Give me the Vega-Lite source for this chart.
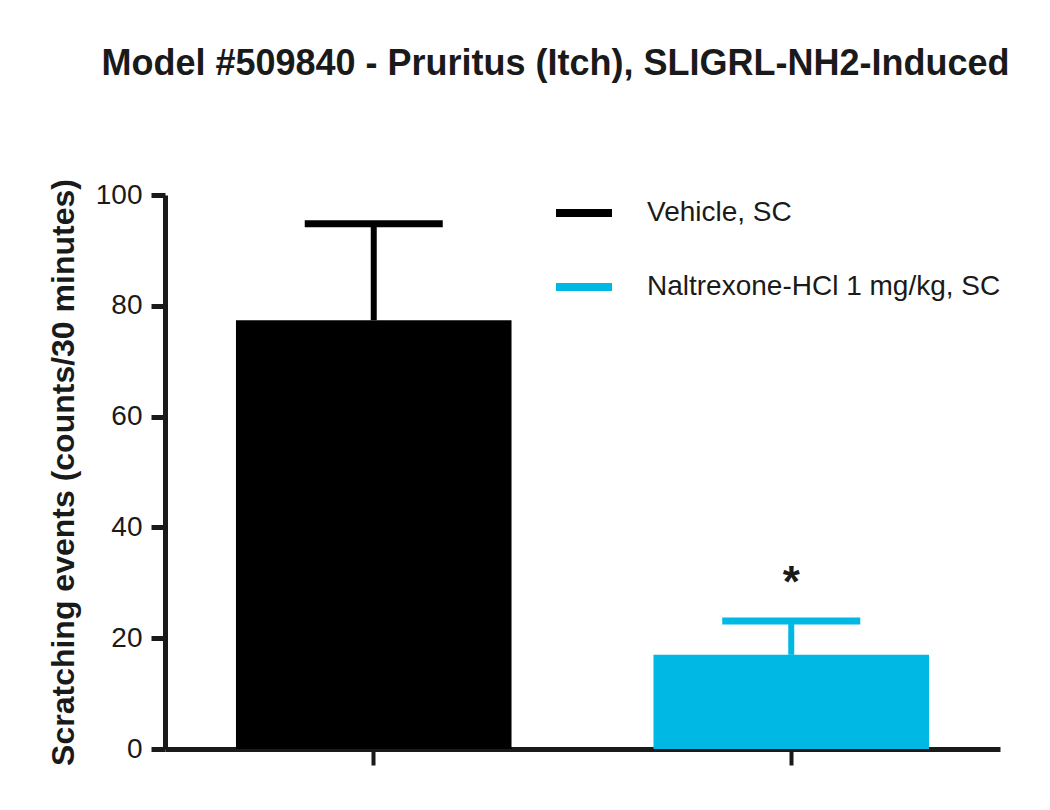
{
  "$schema": "https://vega.github.io/schema/vega-lite/v6.json",
  "description": "Scratching events after SLIGRL-NH2, vehicle vs naltrexone, mean with upper error bar.",
  "autosize": {"type": "none"},
  "padding": {"left": 165, "top": 195, "right": 50, "bottom": 61},
  "width": 835,
  "height": 554,
  "background": "white",
  "title": {
    "text": "Model #509840 - Pruritus (Itch), SLIGRL-NH2-Induced",
    "font": "Liberation Sans",
    "fontSize": 36,
    "fontWeight": "bold",
    "color": "#1a1a1a",
    "anchor": "middle",
    "dx": -27,
    "offset": 82
  },
  "data": {
    "values": [
      {"Group": "Vehicle, SC", "Mean": 77.4, "Upper": 94.8, "Sig": ""},
      {"Group": "Naltrexone-HCl 1 mg/kg, SC", "Mean": 17.0, "Upper": 23.1, "Sig": "*"}
    ]
  },
  "encoding": {
    "x": {
      "field": "Group",
      "type": "nominal",
      "sort": ["Vehicle, SC", "Naltrexone-HCl 1 mg/kg, SC"],
      "scale": {"paddingInner": 0.34, "paddingOuter": 0.17},
      "axis": {"title": null, "labels": false, "tickSize": 16, "tickWidth": 4}
    }
  },
  "layer": [
    {
      "mark": {"type": "rule", "strokeWidth": 6},
      "encoding": {
        "y": {"field": "Mean", "type": "quantitative"},
        "y2": {"field": "Upper"},
        "color": {"field": "Group", "type": "nominal"}
      }
    },
    {
      "mark": {"type": "tick", "size": 138, "thickness": 7, "opacity": 1},
      "encoding": {
        "y": {"field": "Upper", "type": "quantitative"},
        "color": {"field": "Group", "type": "nominal"}
      }
    },
    {
      "mark": {"type": "bar"},
      "encoding": {
        "y": {
          "field": "Mean",
          "type": "quantitative",
          "scale": {"domain": [0, 100], "nice": false},
          "axis": {
            "title": "Scratching events (counts/30 minutes)",
            "values": [0, 20, 40, 60, 80, 100],
            "titleFontSize": 32,
            "titleFontWeight": "bold",
            "titlePadding": 15
          }
        },
        "color": {
          "field": "Group",
          "type": "nominal",
          "sort": ["Vehicle, SC", "Naltrexone-HCl 1 mg/kg, SC"],
          "scale": {
            "domain": ["Vehicle, SC", "Naltrexone-HCl 1 mg/kg, SC"],
            "range": ["#000000", "#00B8E4"]
          },
          "legend": {
            "title": null,
            "orient": "none",
            "legendX": 387,
            "legendY": -14,
            "symbolType": "stroke",
            "symbolSize": 3136,
            "symbolStrokeWidth": 8,
            "labelFontSize": 28,
            "labelOffset": 31,
            "labelLimit": 0,
            "rowPadding": 26,
            "padding": 0,
            "encode": {
              "symbols": {
                "update": {
                  "stroke": {"scale": "color", "field": "value"},
                  "strokeWidth": {"value": 8}
                }
              }
            }
          }
        }
      }
    },
    {
      "mark": {"type": "text", "fontSize": 44, "fontWeight": "bold", "baseline": "middle", "dy": -37},
      "encoding": {
        "y": {"field": "Upper", "type": "quantitative"},
        "text": {"field": "Sig"},
        "color": {"value": "#1a1a1a"}
      }
    }
  ],
  "config": {
    "font": "Liberation Sans",
    "view": {"stroke": null},
    "axis": {
      "grid": false,
      "domainColor": "#1a1a1a",
      "domainWidth": 5,
      "tickColor": "#1a1a1a",
      "tickWidth": 5,
      "tickSize": 14,
      "labelFont": "Liberation Sans",
      "labelFontSize": 28,
      "labelColor": "#1a1a1a",
      "labelPadding": 9,
      "titleFont": "Liberation Sans",
      "titleColor": "#1a1a1a"
    },
    "legend": {
      "labelFont": "Liberation Sans",
      "labelColor": "#1a1a1a"
    }
  }
}
